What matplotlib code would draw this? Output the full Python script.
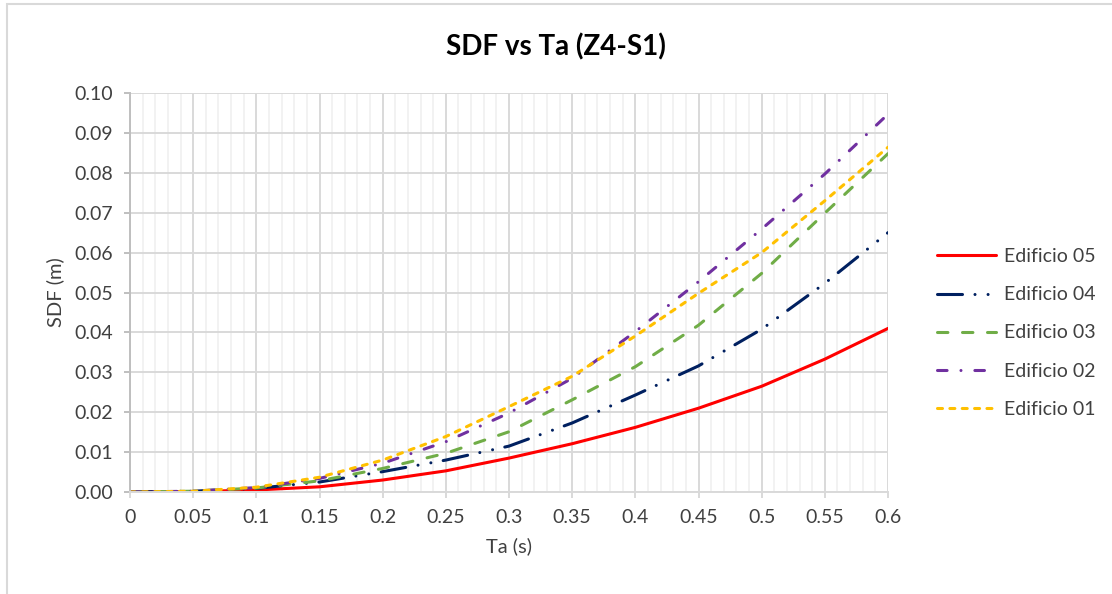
import matplotlib
matplotlib.use("Agg")
import matplotlib.pyplot as plt
from matplotlib.patches import Rectangle
from matplotlib.ticker import MultipleLocator, FormatStrFormatter

plt.rcParams['font.family'] = ['Lato', 'DejaVu Sans']
plt.rcParams['lines.scale_dashes'] = False

ta = [0.0, 0.05, 0.10, 0.15, 0.20, 0.25, 0.30, 0.35, 0.40, 0.45, 0.50, 0.55, 0.60]
edif05 = [0, 0.0001, 0.0005, 0.0013, 0.0030, 0.0053, 0.0085, 0.0121, 0.0162, 0.0210, 0.0265, 0.0333, 0.0410]
edif04 = [0, 0.0002, 0.0009, 0.0025, 0.0051, 0.0080, 0.0115, 0.0173, 0.0243, 0.0316, 0.0408, 0.0523, 0.0650]
edif03 = [0, 0.0002, 0.0010, 0.0028, 0.0059, 0.0097, 0.0151, 0.0231, 0.0314, 0.0418, 0.0548, 0.0699, 0.0848]
edif02 = [0, 0.0002, 0.0011, 0.0034, 0.0072, 0.0126, 0.0198, 0.0285, 0.0402, 0.0527, 0.0659, 0.0797, 0.0947]
edif01 = [0, 0.0002, 0.0012, 0.0037, 0.0080, 0.0139, 0.0214, 0.0290, 0.0391, 0.0498, 0.0600, 0.0730, 0.0864]

labels = ['Edificio 05', 'Edificio 04', 'Edificio 03', 'Edificio 02', 'Edificio 01']
series = [edif05, edif04, edif03, edif02, edif01]
colors = ['#FF0000', '#002060', '#70AD47', '#7030A0', '#FFC000']
lw = 2.2
dashes = [None,
          (18.0, 9.0, 0.01, 9.4, 0.01, 9.0),
          (7.5, 10.5),
          (6.9, 10.0, 0.01, 10.0),
          (3.6, 5.3)]

fig = plt.figure(figsize=(11.12, 5.94), dpi=100)
ax = fig.add_axes([130/1112, 1-492/594, (888-130)/1112, (492-93)/594])

for y, lab, c, d in zip(series, labels, colors, dashes):
    if d is None:
        ax.plot(ta, y, color=c, lw=lw, label=lab, solid_capstyle='round')
    else:
        ax.plot(ta, y, color=c, lw=lw, label=lab, dashes=d, dash_capstyle='round')

ax.set_xlim(0, 0.6)
ax.set_ylim(0, 0.10)
ax.xaxis.set_minor_locator(MultipleLocator(0.01))
ax.yaxis.set_major_locator(MultipleLocator(0.01))
ax.yaxis.set_major_formatter(FormatStrFormatter('%.2f'))
xticks = [0, 0.05, 0.1, 0.15, 0.2, 0.25, 0.3, 0.35, 0.4, 0.45, 0.5, 0.55, 0.6]
xticklabels = ['0', '0.05', '0.1', '0.15', '0.2', '0.25', '0.3', '0.35', '0.4', '0.45', '0.5', '0.55', '0.6']
ax.set_xticks(xticks)
ax.set_xticklabels(xticklabels)

ax.grid(which='major', color='#D9D9D9', lw=1.4)
ax.grid(which='minor', axis='x', color='#F2F2F2', lw=1.4)
ax.set_axisbelow(True)
for s in ['top', 'right']:
    ax.spines[s].set_visible(False)
ax.spines['left'].set_color('#BFBFBF')
ax.spines['left'].set_linewidth(1.4)
ax.spines['bottom'].set_color('#D9D9D9')
ax.spines['bottom'].set_linewidth(1.4)
ax.tick_params(which='major', axis='both', direction='out', length=4.5, width=1.4,
               color='#D9D9D9', labelsize=14, labelcolor='#404040')
ax.tick_params(which='major', axis='y', color='#BFBFBF', pad=8)
ax.tick_params(which='minor', length=0)
ax.tick_params(axis='x', pad=8)

ax.set_xlabel('Ta (s)', fontsize=14.5, color='#404040', labelpad=8)
ax.set_ylabel('SDF (m)', fontsize=14.5, color='#404040', labelpad=7)

fig.text(0.5, 1-47/594, 'SDF vs Ta (Z4-S1)', ha='center', va='center',
         fontsize=20, fontweight='bold', color='#000000')

leg = ax.legend(loc='center left', bbox_to_anchor=(937/1112, 1-333/594),
                bbox_transform=fig.transFigure, frameon=False, fontsize=14,
                handlelength=3.05, handletextpad=0.4, labelspacing=1.09, borderpad=0,
                borderaxespad=0)
for t in leg.get_texts():
    t.set_color('#404040')

fig.patches.append(Rectangle((7/1112, -0.1), 1.2, 1.1 - 4/594, transform=fig.transFigure,
                             fill=False, edgecolor='#D9D9D9', lw=1.5))

fig.savefig('out.png', dpi=100)
